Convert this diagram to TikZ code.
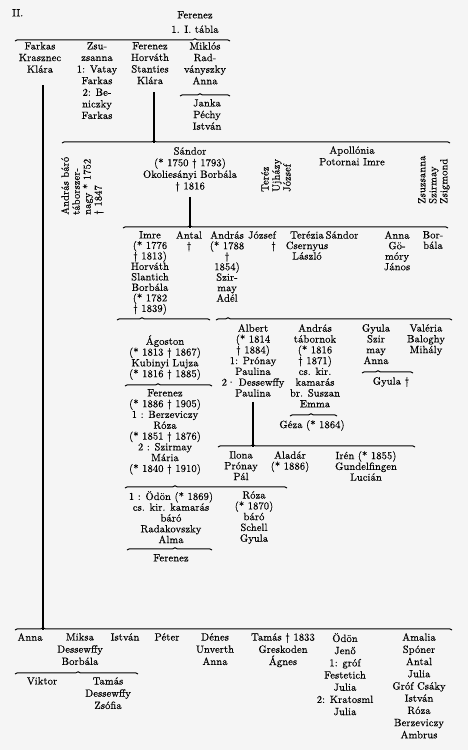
\documentclass[tikz,border=0pt]{standalone}
\usepackage{fontspec}
\setmainfont{Latin Modern Roman}[LetterSpace=1, FakeBold=0.3]
\usetikzlibrary{decorations.pathreplacing}

% family line: name, y, left x, right x, x of the tip
\newcommand{\famline}[5]{%
  \coordinate (#1-l) at (#3,#2);
  \coordinate (#1-r) at (#4,#2);
  \coordinate (#1) at (#5,#2);
  \pgfmathsetmacro{\famasp}{(#5-#3)/(#4-#3)}
  \draw[famln, decoration={brace, amplitude=2.2pt, aspect=\famasp}, decorate] (#1-l) -- (#1-r);
}

\begin{document}
\begin{tikzpicture}[x=1pt, y=-1pt,
    pers/.style={font=\fontsize{10.5}{11.6}\selectfont, align=center, inner sep=0pt, anchor=north, yshift=2pt},
    tight/.style={font=\fontsize{10.5}{10.5}\selectfont},
    snug/.style={font=\fontsize{10.5}{10.8}\selectfont},
    roomy/.style={font=\fontsize{10.5}{12.2}\selectfont},
    sidew/.style={pers, font=\fontsize{10.5}{11}\selectfont, rotate=90, anchor=north west, align=left, yshift=0pt},
    famln/.style={line width=1pt},
    stem/.style={line width=1.6pt}]

% Page
\fill[black!4] (0,0) rectangle (468,750);
\useasboundingbox (0,0) rectangle (468,750);

% Head of the table
\node[pers, anchor=north west] (tab) at (12,11) {II.};
\node[pers, font=\fontsize{10.5}{14.5}\selectfont] (root) at (195,13) {Ferenez\\1. I. tábla};
\famline{b0}{41}{15}{230}{195}

% First generation
\node[pers] (farkas) at (40,44) {Farkas\\Krasznec\\Klára};
\node[pers] (zsuzsa) at (97,44) {Zsu-\\zsanna\\1: Vatay\\Farkas\\2: Be-\\niczky\\Farkas};
\node[pers] (ferh) at (150,44) {Ferenez\\Horváth\\Stanties\\Klára};
\node[pers] (miklos) at (205,44) {Miklós\\Rad-\\ványszky\\Anna};
\famline{b1}{96}{180}{230}{200}
\node[pers] (janka) at (207,101) {Janka\\Péchy\\István};

% Second generation
\famline{b2}{143}{62}{450}{154}
\draw[stem] (b2 |- ferh.south) ++(0,8) -- (b2);
\node[sidew] (andras) at (61,217) {András báró\\táborszer-\\nagy * 1752\\† 1847};
\node[pers] (sandor) at (190,149) {Sándor\\(* 1750 † 1793)\\Okoliesányi Borbála\\† 1816};
\node[sidew] (terez) at (261,194) {Teréz\\Ujházy\\József};
\node[pers] (apol) at (352,148) {Apollónia\\Potornai Imre};
\node[sidew] (zsuzsb) at (418,206) {Zsuzsanna\\Szirmay\\Zsigmond};

% Third generation
\famline{b3}{228}{123}{448}{190}
\draw[stem] (b3 |- sandor.south) ++(0,5) -- (b3);
\node[pers, tight] (imre) at (150,233) {Imre\\(* 1776\\† 1813)\\Horváth\\Slantich\\Borbála\\(* 1782\\† 1839)};
\node[pers, tight] (antal) at (189,233) {Antal\\†};
\node[pers, tight] (andrasb) at (227,233) {András\\(* 1788\\†\\1854)\\Szir-\\may\\Adél};
\node[pers, tight, align=right] (jozsef) at (262,233) {József\\†};
\node[pers, tight] (terezia) at (307,233) {Terézia\\Csernyus\\László};
\node[pers] (sandorb) at (342,233) {Sándor};
\node[pers, tight] (annab) at (397,233) {Anna\\Gö-\\móry\\János};
\node[pers, tight] (borb) at (433,233) {Bor-\\bála};

% Fourth generation
\famline{b4}{320}{117}{210}{142}
\famline{b5}{320}{216}{452}{228}
\node[pers, snug] (agost) at (165,337) {Ágoston\\(* 1813 † 1867)\\Kubinyi Lujza\\(* 1816 † 1885)};
\famline{b6}{386}{125}{212}{158}
\node[pers, snug] (ferb) at (165,391) {Ferenez\\(* 1886 † 1905)\\1 : Berzeviczy\\Róza\\(* 1851 † 1876)\\2 : Szirmay\\Mária\\(* 1840 † 1910)};
\node[pers, snug] (albert) at (253,326) {Albert\\(* 1814\\† 1884)\\1: Prónay\\Paulina\\2· Dessewffy\\Paulina};
\node[pers, snug] (tabor) at (315,326) {András\\tábornok\\(* 1816\\† 1871)\\cs. kir.\\kamarás\\br. Suszan\\Emma};
\famline{b7}{416}{290}{337}{311}
\node[pers] (geza) at (312,422) {Géza (* 1864)};
\node[pers, snug] (gyula) at (376,326) {Gyula\\Szir\\may\\Anna};
\famline{b8}{373}{362}{413}{378}
\node[pers] (gyulab) at (391,379) {Gyula †};
\node[pers, snug] (valeria) at (426,326) {Valéria\\Baloghy\\Mihály};

% Fifth generation
\famline{b9}{447}{218}{415}{253}
\draw[stem] (b9 |- albert.south) ++(0,5) -- (b9);
\node[pers, snug] (ilona) at (241,453) {Ilona\\Prónay\\Pál};
\node[pers, snug] (aladar) at (290,453) {Aladár\\(* 1886)};
\node[pers, snug] (iren) at (366,453) {Irén (* 1855)\\Gundelfingen\\Lucián};
\famline{b10}{488}{125}{287}{175}
\node[pers, snug] (odon) at (171,493) {1 : Ödön (* 1869)\\cs. kir. kamarás\\báró\\Radakovszky\\Alma};
\node[pers, snug] (roza) at (254,493) {Róza\\(* 1870)\\báró\\Schell\\Gyula};
\famline{b11}{550}{127}{212}{175}
\node[pers] (ferc) at (171,556) {Ferenez};

% Farkas line
\famline{b12}{630}{15}{452}{43}
\draw[stem] (b12 |- farkas.south) ++(0,12) -- (b12);
\node[pers, roomy] (annac) at (30,635) {Anna};
\node[pers, roomy] (miksa) at (80,635) {Miksa\\Dessewffy\\Borbála};
\node[pers, roomy] (istvan) at (125,635) {István};
\node[pers, roomy] (peter) at (167,635) {Péter};
\node[pers, roomy] (denes) at (215,635) {Dénes\\Unverth\\Anna};
\node[pers, roomy] (tamas) at (283,635) {Tamás † 1833\\Greskoden\\Ágnes};
\node[pers, roomy] (odonb) at (345,635) {Ödön\\Jenő\\1: gróf\\Festetich\\Julia\\2: Kratosml\\Julia};
\node[pers, roomy] (amalia) at (419,635) {Amalia\\Spóner\\Antal\\Julia\\Gróf Csáky\\István\\Róza\\Berzeviczy\\Ambrus};
\famline{b13}{674}{15}{138}{78}
\node[pers, roomy] (viktor) at (42,679) {Viktor};
\node[pers, roomy] (tamasb) at (108,679) {Tamás\\Dessewffy\\Zsófia};
\end{tikzpicture}
\end{document}
